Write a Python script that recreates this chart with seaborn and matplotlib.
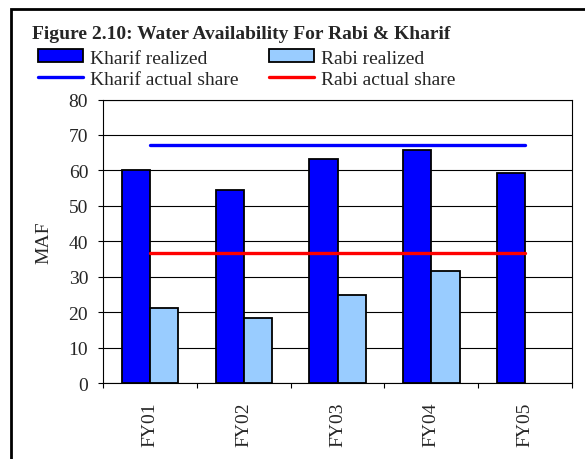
import numpy as np
import pandas as pd
import seaborn as sns
import matplotlib.pyplot as plt
from matplotlib.patches import Rectangle
from matplotlib.ticker import FixedLocator, MultipleLocator

# data (MAF)
years = ['FY01', 'FY02', 'FY03', 'FY04', 'FY05']
kharif_realized = [60.0, 54.6, 63.1, 65.7, 59.3]
rabi_realized = [21.2, 18.5, 24.9, 31.7, np.nan]
kharif_share = [67.3, 67.3, 67.3, 67.3, 67.3]
rabi_share = [36.6, 36.6, 36.6, 36.6, 36.6]

sns.set_style('white')
plt.rcParams['font.family'] = ['Liberation Serif', 'DejaVu Serif']
plt.rcParams['font.size'] = 14

df = pd.DataFrame({
    'year': years * 2,
    'MAF': kharif_realized + rabi_realized,
    'series': ['Kharif realized'] * 5 + ['Rabi realized'] * 5,
})

fig = plt.figure(figsize=(5.85, 4.6), dpi=100)
ax = fig.add_axes([0.176, 0.165, 0.802, 0.6165])

sns.barplot(data=df, x='year', y='MAF', hue='series', order=years,
            palette={'Kharif realized': '#0000FF', 'Rabi realized': '#99CCFF'},
            width=0.6, gap=0, edgecolor='black', linewidth=1.3,
            saturation=1, errorbar=None, ax=ax)
sns.lineplot(x=years, y=kharif_share, color='#0000FF', lw=2.4,
             label='Kharif actual share', ax=ax)
sns.lineplot(x=years, y=rabi_share, color='#FF0000', lw=2.4,
             label='Rabi actual share', ax=ax)

ax.set_ylim(0, 80)
ax.set_xlim(-0.5, 4.5)
ax.yaxis.set_major_locator(MultipleLocator(10))
ax.grid(axis='y', color='black', lw=0.8)
ax.set_axisbelow(True)
for s in ax.spines.values():
    s.set_color('black')
    s.set_linewidth(0.8)

ax.set_xlabel('')
ax.set_ylabel('MAF', fontsize=14, labelpad=12)
ax.tick_params(axis='y', which='major', left=True, length=3.6, width=0.8,
               color='black', labelsize=14, pad=7)
ax.tick_params(axis='x', which='major', length=0, labelsize=14, pad=13,
               labelrotation=90)
ax.xaxis.set_minor_locator(FixedLocator(np.arange(-0.5, 5, 1)))
ax.tick_params(axis='x', which='minor', bottom=True, length=3.6, width=0.8,
               color='black')

h, l = ax.get_legend_handles_labels()
lookup = dict(zip(l, h))
order = ['Kharif realized', 'Kharif actual share', 'Rabi realized', 'Rabi actual share']
ax.legend_.remove()
fig.legend([lookup[k] for k in order], order, ncol=2, loc='upper left',
           bbox_to_anchor=(0.065, 0.891), frameon=False, borderpad=0,
           borderaxespad=0, handlelength=2.3, handleheight=0.67,
           handletextpad=0.35, columnspacing=1.6, labelspacing=0.2,
           fontsize=14)

fig.text(0.055, 0.925, 'Figure 2.10: Water Availability For Rabi & Kharif',
         fontsize=14, fontweight='bold', va='center', ha='left')

# outer frame, cropped at right and bottom like the original
fig.patches.append(Rectangle((11 / 585, -0.1), 1.2, 0.1 + 450 / 460,
                             transform=fig.transFigure, fill=False,
                             edgecolor='black', lw=2))

fig.savefig('out.png', dpi=100)
